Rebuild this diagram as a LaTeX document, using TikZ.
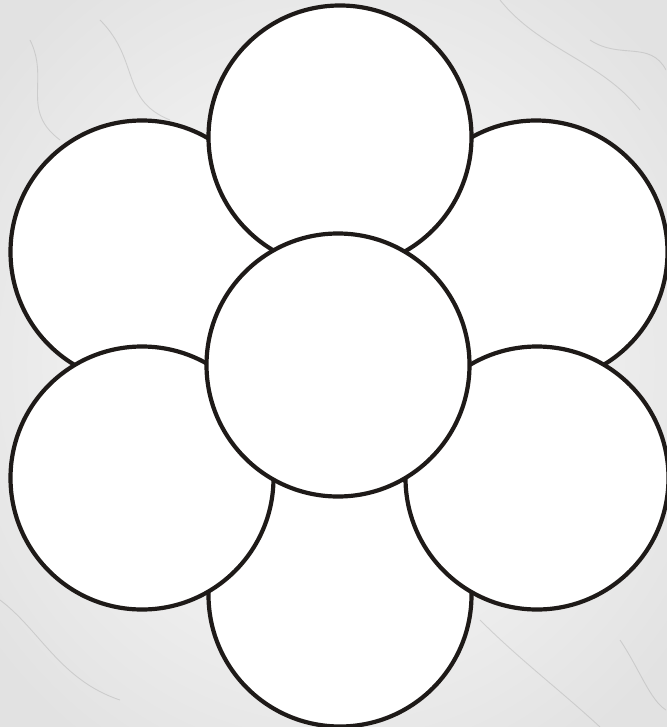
\documentclass[tikz,border=0pt]{standalone}
\usetikzlibrary{shadings}
\definecolor{ink}{HTML}{1E1A18}
\definecolor{marble}{HTML}{E2E2E2}
\definecolor{vein}{HTML}{A8A8A8}
\begin{document}
\begin{tikzpicture}[x=1pt,y=-1pt,
  petal/.style={draw=ink,fill=white,line width=4.2pt},
  veinline/.style={draw=vein,line width=0.9pt,opacity=0.4}]
\useasboundingbox (0,0) rectangle (666,727);
\shade[inner color=white,outer color=marble] (-100,-100) rectangle (766,827);
\begin{scope}
\clip (0,0) rectangle (666,727);
\draw[veinline] (100,20) .. controls (140,60) and (120,100) .. (170,120);
\draw[veinline] (500,0) .. controls (540,50) and (600,60) .. (640,110);
\draw[veinline] (590,40) .. controls (620,60) and (650,40) .. (666,70);
\draw[veinline] (0,600) .. controls (40,630) and (60,680) .. (120,700);
\draw[veinline] (480,620) .. controls (520,660) and (560,690) .. (600,727);
\draw[veinline] (620,640) .. controls (640,670) and (650,700) .. (666,710);
\draw[veinline] (30,40) .. controls (50,80) and (20,110) .. (60,140);
\end{scope}
\node[petal,circle,minimum size=263pt,inner sep=0pt] (bottom) at (340,595) {};
\node[petal,circle,minimum size=263pt,inner sep=0pt] (ul) at (142,252) {};
\node[petal,circle,minimum size=263pt,inner sep=0pt] (ur) at (536,252) {};
\node[petal,circle,minimum size=263pt,inner sep=0pt] (top) at (340,137) {};
\node[petal,circle,minimum size=263pt,inner sep=0pt] (ll) at (142,478) {};
\node[petal,circle,minimum size=263pt,inner sep=0pt] (lr) at (537,478) {};
\node[petal,circle,minimum size=263pt,inner sep=0pt] (center) at (338,365) {};
\end{tikzpicture}
\end{document}
